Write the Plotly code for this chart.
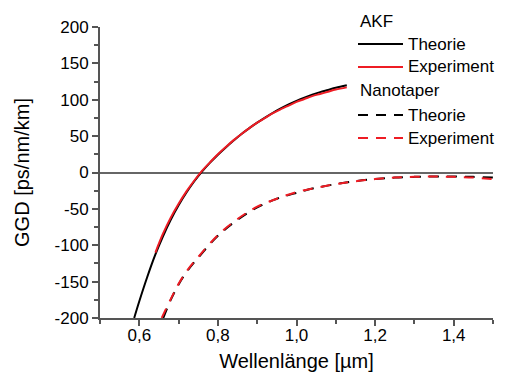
import plotly.graph_objects as go

# Group delay dispersion (GGD) vs. wavelength
akf_theory_wl = [0.587, 0.60, 0.62, 0.64, 0.66, 0.68, 0.70, 0.72, 0.74, 0.76, 0.78,
                 0.80, 0.82, 0.84, 0.86, 0.88, 0.90, 0.92, 0.94, 0.96, 0.98,
                 1.00, 1.02, 1.04, 1.06, 1.08, 1.10, 1.128]
akf_theory_ggd = [-200, -177, -144, -114, -88, -65, -45, -27.5, -12, 1.5, 13.5,
                  24.5, 34.5, 44, 53, 61, 68.5, 75.5, 82, 88, 93.5,
                  98.5, 103, 107, 110.5, 113.5, 116.5, 120]

akf_exp_wl = [0.641, 0.66, 0.68, 0.70, 0.72, 0.74, 0.76, 0.78, 0.80, 0.82, 0.84,
              0.86, 0.88, 0.90, 0.92, 0.94, 0.96, 0.98, 1.00, 1.02, 1.04,
              1.06, 1.08, 1.10, 1.128]
akf_exp_ggd = [-110, -84.5, -62, -43, -26, -11, 2.5, 14, 25, 35, 44.5,
               53, 61, 68.5, 75, 81.5, 87, 92, 97, 101, 105,
               108, 111, 114, 117]

nano_theory_wl = [0.661, 0.68, 0.70, 0.72, 0.75, 0.80, 0.85, 0.90, 0.95, 1.00, 1.05,
                  1.10, 1.15, 1.20, 1.25, 1.30, 1.35, 1.40, 1.45, 1.50]
nano_theory_ggd = [-200, -175, -154, -137, -117, -87, -65, -48, -36, -28, -21,
                   -16, -12, -9, -7, -6, -5.5, -5.5, -6, -7]

nano_exp_wl = [0.657, 0.68, 0.70, 0.72, 0.75, 0.80, 0.85, 0.90, 0.95, 1.00, 1.05,
               1.10, 1.15, 1.20, 1.25, 1.30, 1.35, 1.40, 1.45, 1.50]
nano_exp_ggd = [-200, -174, -153, -136, -116, -86, -64, -47, -36, -27, -21,
                -16, -12, -9, -7, -6, -5.5, -6, -7, -9]

x_tick_vals = [0.6, 0.8, 1.0, 1.2, 1.4]
x_tick_text = ["0,6", "0,8", "1,0", "1,2", "1,4"]
y_tick_vals = [-200, -150, -100, -50, 0, 50, 100, 150, 200]
y_tick_text = ["-200", "-150", "-100", "-50", "0", "50", "100", "150", "200"]

FONT = "Arial, Liberation Sans, sans-serif"
FS = 17
AXIS_GREY = "#555555"
RED = "#ee1c24"
DASH = "10px,8px"

W, H = 510, 381
M_L, M_R, M_T, M_B = 100, 17, 27, 63
PLOT_W = W - M_L - M_R
PLOT_H = H - M_T - M_B

series = [
    ("Theorie", akf_theory_wl, akf_theory_ggd, "black", "solid"),
    ("Experiment", akf_exp_wl, akf_exp_ggd, RED, "solid"),
    ("Theorie", nano_theory_wl, nano_theory_ggd, "black", DASH),
    ("Experiment", nano_exp_wl, nano_exp_ggd, RED, DASH),
]

fig = go.Figure()
for name, xs, ys, color, dash in series:
    fig.add_trace(go.Scatter(
        x=xs, y=ys, mode="lines", name=name, showlegend=False,
        line=dict(color=color, width=2, shape="spline", dash=dash)))


def px_to_paper(px, py):
    return (px - M_L) / PLOT_W, (M_T + PLOT_H - py) / PLOT_H


# Hand-built legend: group headings, line samples and labels
legend_rows = [
    ("AKF", None, None, 21),
    ("Theorie", "black", "solid", 44),
    ("Experiment", RED, "solid", 67),
    ("Nanotaper", None, None, 90),
    ("Theorie", "black", DASH, 115),
    ("Experiment", RED, DASH, 138),
]
annotations = []
shapes = []
for label, color, dash, row_y in legend_rows:
    if color is None:
        ax_, ay_ = px_to_paper(358, row_y)
    else:
        x0, y0 = px_to_paper(358, row_y)
        x1, _ = px_to_paper(403, row_y)
        shapes.append(dict(type="line", xref="paper", yref="paper",
                           x0=x0, x1=x1, y0=y0, y1=y0,
                           line=dict(color=color, width=2, dash=dash)))
        ax_, ay_ = px_to_paper(406, row_y)
    annotations.append(dict(text=label, xref="paper", yref="paper",
                            x=ax_, y=ay_, xanchor="left", yanchor="middle",
                            showarrow=False,
                            font=dict(family=FONT, size=FS, color="black")))

fig.update_layout(
    width=W, height=H,
    margin=dict(l=M_L, r=M_R, t=M_T, b=M_B),
    paper_bgcolor="white", plot_bgcolor="white",
    font=dict(family=FONT, size=FS, color="black"),
    showlegend=False,
    annotations=annotations,
    shapes=shapes,
    xaxis=dict(
        range=[0.5, 1.5], showgrid=False, zeroline=False, automargin=False,
        showline=True, linecolor=AXIS_GREY, linewidth=2,
        ticks="outside", ticklen=6, tickwidth=1.5, tickcolor=AXIS_GREY,
        tickvals=x_tick_vals, ticktext=x_tick_text, ticklabelstandoff=-5,
        minor=dict(ticks="outside", ticklen=4, tickwidth=1.5, tickcolor=AXIS_GREY,
                   tick0=0.5, dtick=0.1, showgrid=False),
        title=dict(text="Wellenlänge [µm]", standoff=10),
        tickfont=dict(size=FS),
    ),
    yaxis=dict(
        range=[-200, 200], showgrid=False, automargin=False,
        zeroline=True, zerolinecolor="#666666", zerolinewidth=2,
        showline=True, linecolor=AXIS_GREY, linewidth=2,
        ticks="outside", ticklen=6, tickwidth=1.5, tickcolor=AXIS_GREY,
        tickvals=y_tick_vals, ticktext=y_tick_text,
        minor=dict(ticks="outside", ticklen=4, tickwidth=1.5, tickcolor=AXIS_GREY,
                   tick0=-200, dtick=25, showgrid=False),
        title=dict(text="GGD [ps/nm/km]", standoff=20),
        tickfont=dict(size=FS),
    ),
)

fig.write_html("out.html")
